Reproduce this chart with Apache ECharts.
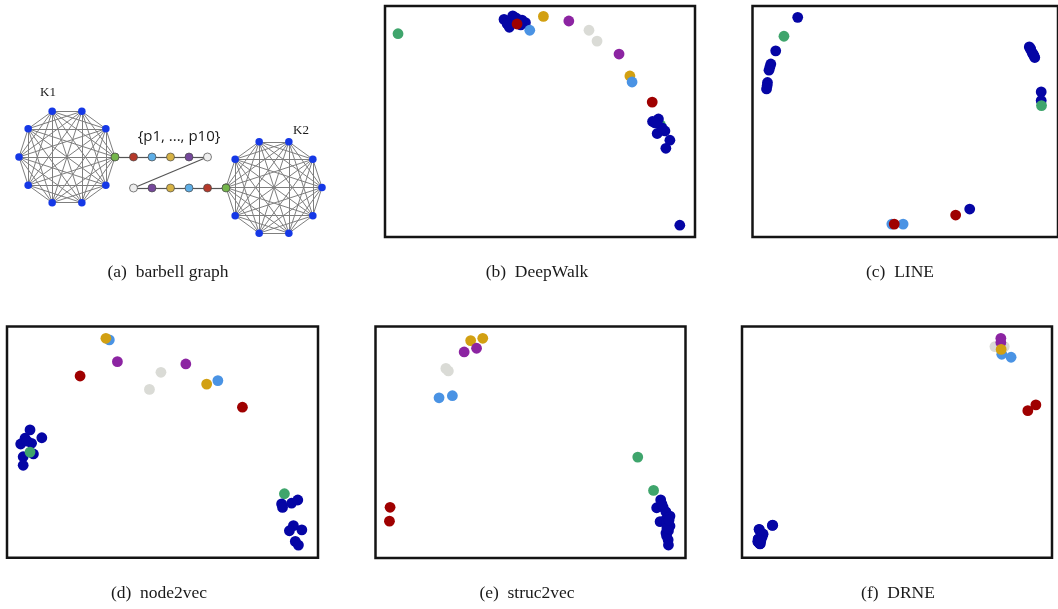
<!DOCTYPE html>
<html>
<head>
<meta charset="utf-8">
<script src="https://cdn.jsdelivr.net/npm/echarts@6/dist/echarts.min.js"></script>
<style>
  html, body { margin: 0; padding: 0; background: #fff; }
  #main { width: 1058px; height: 609px; }
</style>
</head>
<body>
<div id="main"></div>
<script>
// ---------- Barbell graph: two 10-cliques K1, K2 joined by the path p1..p10 ----------
const cliqueK1 = ['a0', 'a1', 'a2', 'a3', 'a4', 'a5', 'a6', 'a7', 'a8', 'a9']; // a0 is the bridge node
const cliqueK2 = ['b0', 'b1', 'b2', 'b3', 'b4', 'b5', 'b6', 'b7', 'b8', 'b9']; // b0 is the bridge node
const pathNames = ['p1', 'p2', 'p3', 'p4', 'p5', 'p6', 'p7', 'p8', 'p9', 'p10'];

// ---------- 2-D embeddings of the 30 nodes, one set per method ----------
// K1 clique members, bridge nodes [K1 side, K2 side], path p1..p10 (null = not in view), K2 clique members
const deepwalkK1 = [[38.4, 94.2], [41.2, 95.7], [40.1, 90.8], [43.8, 91.8], [45.3, 92.8], [40.5, 93.5], [42.3, 94.8], [39.4, 92.2], [44.2, 93.9]];
const deepwalkBridge = [[4.2, 88.0], [88.9, 48.5]];
const deepwalkPath = [[42.6, 92.2], [46.7, 89.5], [51.1, 95.5], [59.3, 93.5], [65.8, 89.5], [68.4, 84.8], [75.5, 79.2], [79.0, 69.7], [79.7, 67.1], [86.2, 58.4]];
const deepwalkK2 = [[86.3, 50.0], [88.2, 51.1], [90.3, 45.9], [87.8, 44.8], [89.4, 47.2], [91.9, 41.9], [90.6, 38.4], [87.1, 49.4], [95.1, 5.1]];

const lineK1 = [[90.6, 82.3], [91.0, 81.6], [91.1, 81.0], [91.6, 79.7], [91.8, 79.2], [92.1, 78.6], [92.4, 77.7], [94.5, 62.8], [94.5, 59.1]];
const lineBridge = [[94.6, 56.9], [10.3, 86.9]];
const linePath = [[66.5, 9.5], [49.3, 5.6], null, null, null, null, null, null, [45.6, 5.6], [46.4, 5.6]];
const lineK2 = [[14.8, 95.1], [7.6, 80.6], [6.0, 74.9], [5.7, 73.6], [5.4, 72.2], [4.9, 66.9], [4.8, 65.6], [4.6, 64.1], [71.1, 12.1]];

const node2vecK1 = [[7.4, 55.3], [11.2, 51.9], [5.8, 51.7], [4.4, 49.2], [7.9, 49.5], [6.4, 50.5], [8.5, 44.9], [5.2, 43.7], [5.2, 40.0]];
const node2vecBridge = [[7.4, 45.7], [89.2, 27.7]];
const node2vecPath = [[23.5, 78.6], [32.9, 94.2], [31.8, 94.9], [35.5, 84.8], [45.8, 72.8], [49.5, 80.2], [57.5, 83.8], [64.2, 75.1], [67.8, 76.6], [75.7, 65.1]];
const node2vecK2 = [[88.3, 23.3], [88.6, 21.8], [91.5, 23.6], [93.5, 25.0], [92.1, 13.9], [90.8, 11.7], [94.8, 12.1], [92.7, 7.1], [93.7, 5.5]];

const struc2vecK1 = [[92.0, 25.1], [90.7, 21.7], [92.8, 21.9], [93.7, 19.9], [95.0, 18.1], [94.4, 17.3], [91.8, 15.7], [93.1, 16.0], [93.9, 15.2]];
const struc2vecBridge = [[84.6, 43.6], [89.7, 29.2]];
const struc2vecPath = [[4.7, 21.9], [20.5, 69.2], [30.7, 93.9], [28.6, 89.0], [22.7, 81.9], [23.5, 80.8], [32.6, 90.6], [34.6, 94.9], [24.8, 70.1], [4.5, 15.9]];
const struc2vecK2 = [[95.0, 13.8], [94.5, 11.8], [93.7, 10.8], [93.9, 9.5], [94.4, 7.8], [94.5, 5.6], [92.4, 23.3], [94.0, 13.0], [94.7, 16.4]];

const drneK1 = [[9.9, 14.1], [5.5, 12.3], [6.5, 9.1], [5.1, 7.0], [5.8, 6.0], [5.2, 8.1], [6.8, 10.3], [5.5, 6.4], [6.1, 7.5]];
const drneBridge = [[5.8, 7.7], [5.9, 8.0]];
const drnePath = [[92.2, 63.6], [83.8, 88.0], [83.5, 91.6], [83.5, 94.9], [81.6, 91.3], [84.6, 91.3], [83.5, 93.1], [83.6, 90.1], [86.8, 86.7], [94.8, 66.1]];
const drneK2 = [[9.8, 14.0], [5.6, 12.2], [6.4, 9.2], [5.2, 7.1], [5.9, 6.1], [5.3, 8.2], [6.7, 10.2], [5.6, 6.5], [6.0, 7.6]];

const captions = ['(a)\u2002barbell graph', '(b)\u2002DeepWalk', '(c)\u2002LINE', '(d)\u2002node2vec', '(e)\u2002struc2vec', '(f)\u2002DRNE'];

// ---------- styles ----------
const EMB = { clique: '#0505a5', bridge: '#3fa56c' };
const EMB_PATH = ['#9f0000', '#4a93e4', '#d2a012', '#8c24a2', '#dadbd6', '#dadbd6', '#8c24a2', '#d2a012', '#4a93e4', '#9f0000'];
const BAR = { clique: '#1538e6', bridge: '#74b54a', edge: '#7e7e7e', chain: '#555' };
const BAR_PATH = ['#b5392a', '#5eaee6', '#d6b244', '#75489b', '#eeeeee', '#eeeeee', '#75489b', '#d6b244', '#5eaee6', '#b5392a'];
const SERIF = 'Liberation Serif';

// panel boxes: [left, top, width, height]
const panelBoxes = [
  [385, 6, 310, 231],
  [752.5, 6, 310, 231],
  [7, 326.5, 311, 231.3],
  [375.5, 326.5, 310, 231.5],
  [742, 326.5, 310, 231.3]
];
const captionPos = [[168, 272], [537, 272], [900, 272], [159, 593], [527, 593], [898, 593]];

const grids = [{ left: 115, top: 157, width: 111, height: 31, show: false }];
const xAxes = [{ type: 'value', min: 0, max: 6, show: false, gridIndex: 0 }];
const yAxes = [{ type: 'value', min: 0, max: 1, show: false, gridIndex: 0 }];
panelBoxes.forEach((b, i) => {
  grids.push({ left: b[0], top: b[1], width: b[2], height: b[3], show: true,
    borderColor: '#141414', borderWidth: 2.5, backgroundColor: 'transparent' });
  xAxes.push({ type: 'value', min: 0, max: 100, show: false, gridIndex: i + 1 });
  yAxes.push({ type: 'value', min: 0, max: 100, show: false, gridIndex: i + 1 });
});

// complete graph on a clique
function cliqueLinks(names) {
  const links = [];
  for (let i = 0; i < names.length; i++)
    for (let j = i + 1; j < names.length; j++) links.push({ source: names[i], target: names[j] });
  return links;
}
function cliqueSeries(names, polarIndex) {
  return {
    type: 'graph', coordinateSystem: 'polar', polarIndex: polarIndex, layout: 'none',
    silent: true, animation: false, symbol: 'circle', symbolSize: 7.5,
    data: names.map((n, i) => ({ name: n, value: [1, i],
      itemStyle: { color: i === 0 ? BAR.bridge : BAR.clique,
        borderColor: i === 0 ? '#4a4a4a' : BAR.clique, borderWidth: i === 0 ? 0.7 : 0, opacity: 1 } })),
    links: cliqueLinks(names),
    lineStyle: { color: BAR.edge, width: 1, opacity: 1, curveness: 0 },
    label: { show: false }, emphasis: { disabled: true }
  };
}

// chain K1-bridge, p1..p10, K2-bridge folded into two rows
const chainNames = [cliqueK1[0]].concat(pathNames, [cliqueK2[0]]);
const half = chainNames.length / 2;
const chainData = chainNames.map((n, i) => {
  const upper = i < half;
  let color = BAR.bridge;
  if (i > 0 && i < chainNames.length - 1) color = BAR_PATH[i - 1];
  return { name: n, value: [upper ? i : i - half + 1, upper ? 1 : 0],
    itemStyle: { color: color, borderColor: '#4a4a4a', borderWidth: 0.7, opacity: 1 } };
});
const chainLinks = [];
for (let i = 0; i + 1 < chainNames.length; i++) chainLinks.push({ source: chainNames[i], target: chainNames[i + 1] });

const series = [
  cliqueSeries(cliqueK1, 0),
  cliqueSeries(cliqueK2, 1),
  {
    type: 'graph', coordinateSystem: 'cartesian2d', xAxisIndex: 0, yAxisIndex: 0, layout: 'none',
    silent: true, animation: false, symbol: 'circle', symbolSize: 8,
    data: chainData, links: chainLinks,
    lineStyle: { color: BAR.chain, width: 1.2, opacity: 1 },
    label: { show: false }, emphasis: { disabled: true }
  }
];

// embedding panels: drawn in node order K1, K1 bridge, path, K2 bridge, K2
function panelSeries(gi, k1, bridge, path, k2) {
  const base = { type: 'scatter', xAxisIndex: gi, yAxisIndex: gi, symbolSize: 10.8,
    silent: true, animation: false, emphasis: { disabled: true } };
  const pathData = path.map((p, i) => p ? { value: p, itemStyle: { color: EMB_PATH[i], opacity: 1 } } : null)
    .filter(Boolean);
  return [
    Object.assign({}, base, { data: k1, itemStyle: { color: EMB.clique, opacity: 1 } }),
    Object.assign({}, base, { data: [bridge[0]], itemStyle: { color: EMB.bridge, opacity: 1 } }),
    Object.assign({}, base, { data: pathData, itemStyle: { opacity: 1 } }),
    Object.assign({}, base, { data: [bridge[1]], itemStyle: { color: EMB.bridge, opacity: 1 } }),
    Object.assign({}, base, { data: k2, itemStyle: { color: EMB.clique, opacity: 1 } })
  ];
}
series.push(...panelSeries(1, deepwalkK1, deepwalkBridge, deepwalkPath, deepwalkK2));
series.push(...panelSeries(2, lineK1, lineBridge, linePath, lineK2));
series.push(...panelSeries(3, node2vecK1, node2vecBridge, node2vecPath, node2vecK2));
series.push(...panelSeries(4, struc2vecK1, struc2vecBridge, struc2vecPath, struc2vecK2));
series.push(...panelSeries(5, drneK1, drneBridge, drnePath, drneK2));

const hiddenAngle = { type: 'category', boundaryGap: false, axisLine: { show: false },
  axisTick: { show: false }, axisLabel: { show: false }, splitLine: { show: false } };
const hiddenRadius = { type: 'value', min: 0, max: 1, axisLine: { show: false },
  axisTick: { show: false }, axisLabel: { show: false }, splitLine: { show: false } };

const texts = captions.map((c, i) => ({
  type: 'text', x: captionPos[i][0], y: captionPos[i][1], silent: true,
  style: { text: c, font: '17.5px "' + SERIF + '"', fill: '#1a1a1a', textAlign: 'center', textVerticalAlign: 'middle' }
}));
texts.push(
  { type: 'text', x: 48, y: 93, silent: true,
    style: { text: 'K1', font: '13px "' + SERIF + '"', fill: '#1a1a1a', textAlign: 'center', textVerticalAlign: 'middle' } },
  { type: 'text', x: 301, y: 131, silent: true,
    style: { text: 'K2', font: '13px "' + SERIF + '"', fill: '#1a1a1a', textAlign: 'center', textVerticalAlign: 'middle' } },
  { type: 'text', x: 179, y: 137, silent: true,
    style: { text: '{p1, ..., p10}', font: '15px "Open Sans"', fill: '#1a1a1a', textAlign: 'center', textVerticalAlign: 'middle' } }
);

const chart = echarts.init(document.getElementById('main'), null, { renderer: 'canvas' });
chart.setOption({
  animation: false,
  backgroundColor: '#ffffff',
  polar: [
    { center: [67, 157], radius: 48 },
    { center: [274, 187.5], radius: 48 }
  ],
  angleAxis: [
    Object.assign({ polarIndex: 0, startAngle: 0, data: cliqueK1 }, hiddenAngle),
    Object.assign({ polarIndex: 1, startAngle: 180, data: cliqueK2 }, hiddenAngle)
  ],
  radiusAxis: [
    Object.assign({ polarIndex: 0 }, hiddenRadius),
    Object.assign({ polarIndex: 1 }, hiddenRadius)
  ],
  grid: grids,
  xAxis: xAxes,
  yAxis: yAxes,
  series: series,
  graphic: texts
});
</script>
</body>
</html>
